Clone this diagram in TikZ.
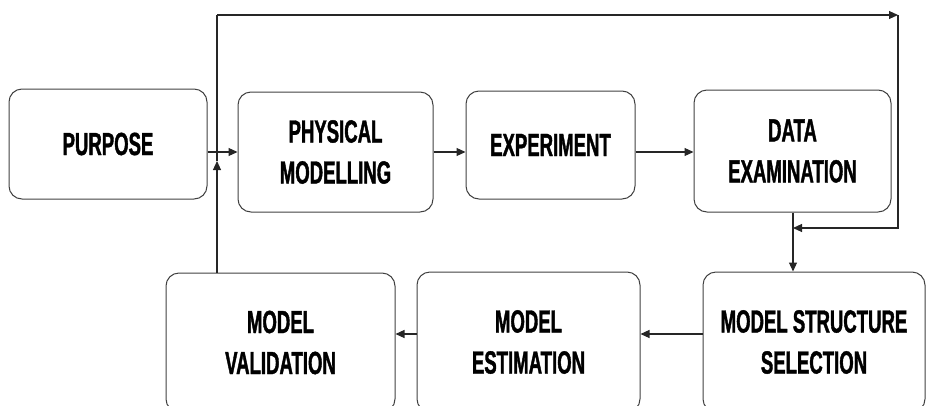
\documentclass[tikz,border=0pt]{standalone}
\usepackage{fontspec}
\setmainfont{Liberation Sans}[FakeStretch=0.58, BoldFeatures={FakeBold=1.2}]
\usetikzlibrary{arrows.meta}
\begin{document}
\begin{tikzpicture}[x=1pt,y=-1pt,
  stage/.style={draw=black!75, line width=1pt, rounded corners=13pt, align=center,
    font=\fontsize{32}{41}\selectfont\bfseries, inner sep=0pt},
  arr/.style={draw=black!85, line width=1.1pt, -{Triangle[length=9pt,width=8pt]}},
  link/.style={draw=black!85, line width=1.1pt}]
\useasboundingbox (0,0) rectangle (935,405);
\clip (0,0) rectangle (935,405);
% top row
\node[stage, minimum width=198pt, minimum height=110pt] (purpose) at (108,144) {PURPOSE};
\node[stage, minimum width=195pt, minimum height=120pt] (phys) at (335.5,152) {PHYSICAL\\MODELLING};
\node[stage, minimum width=169pt, minimum height=108pt] (exp) at (550.5,145) {EXPERIMENT};
\node[stage, minimum width=197pt, minimum height=122pt] (data) at (792.5,151) {DATA\\EXAMINATION};
% bottom row, running past the lower edge
\node[stage, minimum width=222pt, minimum height=140pt] (mss) at (814,342) {MODEL STRUCTURE\\SELECTION};
\node[stage, minimum width=223pt, minimum height=140pt] (est) at (528.5,342) {MODEL\\ESTIMATION};
\node[stage, minimum width=229pt, minimum height=139pt] (val) at (280.5,342.5) {MODEL\\VALIDATION};
% feedback route coordinates
\coordinate (up) at (217,161);
\coordinate (tl) at (217,15);
\coordinate (tr) at (898,15);
\coordinate (br) at (898,228);
\coordinate (bl) at (793,228);
% forward flow
\draw[arr] (purpose.east |- phys.west) -- (phys.west);
\draw[arr] (phys.east |- 0,152) -- (exp.west |- 0,152);
\draw[arr] (exp.east |- 0,152) -- (data.west |- 0,152);
\draw[arr] (data.south -| bl) -- (mss.north -| bl);
\draw[arr] (mss.west |- 0,334) -- (est.east |- 0,334);
\draw[arr] (est.west |- 0,334) -- (val.east |- 0,334);
% feedback loop
\draw[arr] (val.north -| up) -- (up);
\draw[link] (up) -- (tl);
\draw[arr] (tl) -- (tr);
\draw[arr] (tr) -- (br) -- (bl);
\end{tikzpicture}
\end{document}
